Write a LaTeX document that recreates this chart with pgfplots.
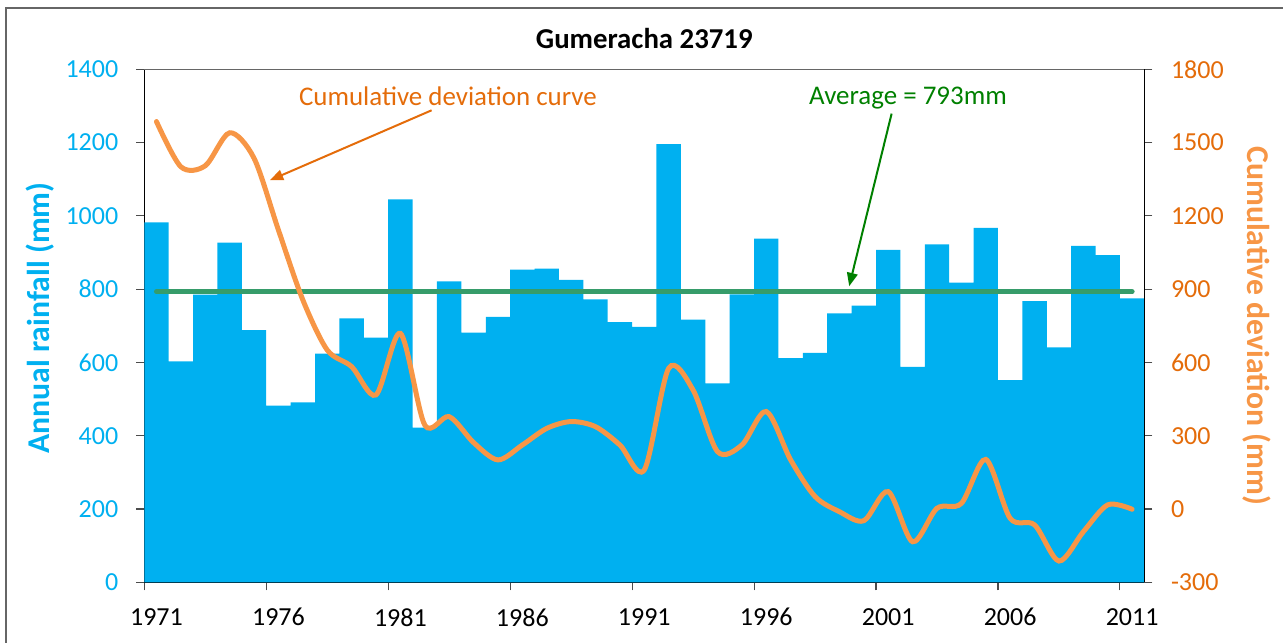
\documentclass[border=0pt]{standalone}
\usepackage{fontspec}
\setmainfont{Carlito}
\usepackage{pgfplots}
\pgfplotsset{compat=1.18}
\usepackage{pgfplotstable}
\usetikzlibrary{arrows.meta}

\definecolor{barblue}{RGB}{0,176,240}
\definecolor{orgdark}{RGB}{228,108,10}
\definecolor{orglight}{RGB}{247,150,70}
\definecolor{greenline}{RGB}{54,156,106}
\definecolor{greentext}{RGB}{0,128,0}

\pgfplotstableread{
year rain
1971 982
1972 603
1973 785
1974 927
1975 688
1976 482
1977 491
1978 624
1979 720
1980 668
1981 1045
1982 422
1983 821
1984 681
1985 724
1986 853
1987 856
1988 825
1989 772
1990 710
1991 697
1992 1196
1993 717
1994 543
1995 786
1996 938
1997 612
1998 626
1999 734
2000 755
2001 907
2002 588
2003 922
2004 818
2005 967
2006 552
2007 767
2008 641
2009 918
2010 893
2011 775
}\raintable

\pgfplotstableread{
year cum
1971 1586
1972 1401
1973 1405
1974 1540
1975 1436
1976 1142
1977 856
1978 651
1979 583
1980 467
1981 719
1982 344
1983 378
1984 272
1985 201
1986 262
1987 330
1988 358
1989 337
1990 262
1991 160
1992 576
1993 487
1994 235
1995 262
1996 399
1997 201
1998 51
1999 -11
2000 -48
2001 71
2002 -134
2003 3
2004 23
2005 203
2006 -38
2007 -65
2008 -213
2009 -93
2010 17
2011 -1
}\cumtable

\newcommand{\fs}{\fontsize{19.5}{22}\selectfont}
\newcommand{\fsa}{\fontsize{20.2}{23}\selectfont}
\newcommand{\fsl}{\fontsize{23.8}{26}\selectfont}
\newcommand{\fst}{\fontsize{21.6}{24}\selectfont}

\begin{document}
\begin{tikzpicture}
\begin{axis}[
  name=main,
  at={(0,0)}, anchor=south west,
  scale only axis,
  width=750pt, height=384.75pt,
  xmin=1970.5, xmax=2011.5,
  ymin=0, ymax=1400,
  axis x line*=bottom,
  axis y line*=left,
  axis line style={black, line width=0.8pt},
  tick align=outside,
  xtick={1971,1976,...,2011},
  minor xtick={1970.5,1975.5,...,2010.5},
  major x tick style={draw=none},
  minor tick length=6pt,
  major tick length=6pt,
  every tick/.style={black!70, line width=0.8pt},
  ytick={0,200,...,1400},
  /pgf/number format/1000 sep={},
  /pgf/number format/assume math mode=true,
  xticklabel style={font=\fs, text=black, yshift=-10pt},
  yticklabel style={font=\fs, text=barblue, xshift=-10pt},
  ylabel={\textbf{Annual rainfall (mm)}},
  ylabel style={font=\fsl, text=barblue, at={(axis description cs:-0.104,0.515)}, anchor=center},
  clip=false,
]
\addplot[ybar, bar width=1, bar shift=0pt, fill=barblue, draw=none] table[x=year, y=rain] {\raintable};
\addplot[greenline, line width=3.75pt, line cap=round] coordinates {(1971,793) (2011,793)};
\draw[black!60, line width=0.8pt] (rel axis cs:0,1) -- (rel axis cs:1,1);
\draw[orgdark, line width=1.5pt, -{Triangle[length=10pt,width=8pt]}] (axis cs:1982.28,1288) -- (axis cs:1975.65,1097);
\node[font=\fsa, text=orgdark] at (axis cs:1982.95,1327) {Cumulative deviation curve};
\draw[greentext, line width=1.5pt, -{Triangle[length=10pt,width=8pt]}] (axis cs:2001.14,1279) -- (axis cs:1999.4,808);
\node[font=\fsa, text=greentext] at (axis cs:2001.81,1321) {Average = 793mm};
\end{axis}
\begin{axis}[
  at={(0,0)}, anchor=south west,
  scale only axis,
  width=750pt, height=384.75pt,
  xmin=1970.5, xmax=2011.5,
  ymin=-300, ymax=1800,
  axis x line=none,
  axis y line*=right,
  axis line style={black, line width=0.8pt},
  tick align=outside,
  major tick length=6pt,
  every tick/.style={black!70, line width=0.8pt},
  ytick={-300,0,...,1800},
  /pgf/number format/1000 sep={},
  /pgf/number format/assume math mode=true,
  yticklabel style={font=\fs, text=orgdark, xshift=10.5pt},
  ylabel={\textbf{Cumulative deviation (mm)}},
  ylabel style={font=\fsl, text=orglight, at={(axis description cs:1.1127,0.50)}, anchor=center, rotate=180},
  clip=false,
]
\addplot[orglight, line width=3.75pt, smooth, tension=0.5, line cap=round] table[x=year, y=cum] {\cumtable};
\end{axis}
\node[font=\fst\bfseries] at (375pt,407.5pt) {Gumeracha 23719};
\draw[black!60, line width=0.8pt] (-103.7pt,-60pt) -- (-103.7pt,430.7pt) -- (870pt,430.7pt);
\pgfresetboundingbox
\useasboundingbox (-108.2pt,-45.5pt) rectangle (854pt,436.7pt);
\end{tikzpicture}
\end{document}
